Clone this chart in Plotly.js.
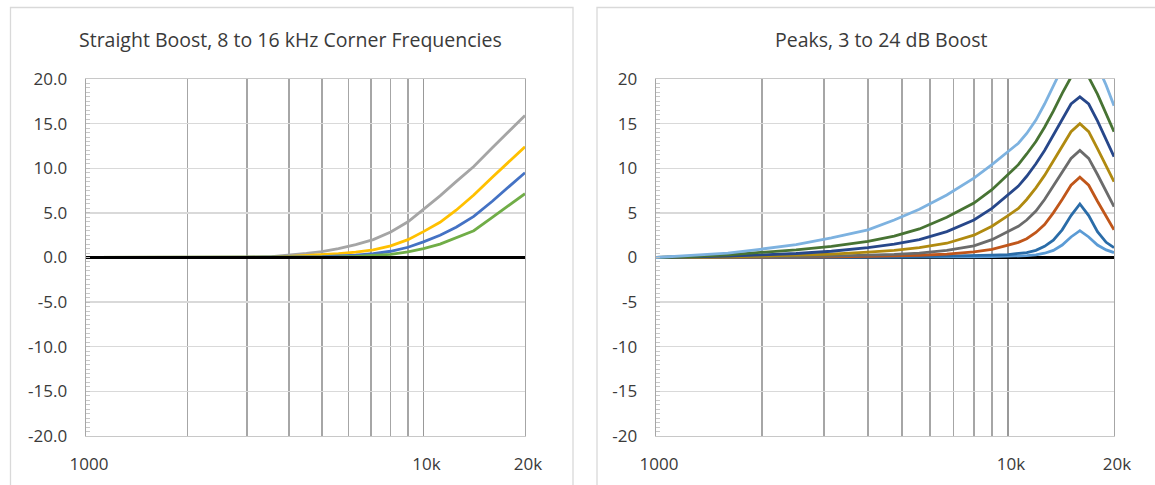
<!DOCTYPE html>
<html><head><meta charset="utf-8">
<script src="https://cdn.plot.ly/plotly-3.0.1.min.js"></script>
<style>html,body{margin:0;padding:0;background:#fff}#chart{width:1155px;height:485px}</style>
</head><body><div id="chart"></div><script>
// ---- Left chart: straight boost, corner frequencies ----
const leftTitle = "Straight Boost, 8 to 16 kHz Corner Frequencies";
const leftFreq = [1000, 2000, 3000, 3550, 4000, 4500, 5000, 5600, 6300, 7100, 8000, 9000, 10000, 11200, 12500, 14100, 16000, 18000, 20000];
const corner8k  = [0, 0, 0.03, 0.1, 0.25, 0.45, 0.65, 1.0, 1.45, 2.0, 2.85, 4.0, 5.4, 6.9, 8.5, 10.2, 12.3, 14.2, 15.9];
const corner10k = [0, 0, 0.02, 0.05, 0.12, 0.2, 0.3, 0.42, 0.6, 0.85, 1.3, 2.0, 2.9, 3.95, 5.3, 7.0, 9.0, 10.8, 12.4];
const corner12k = [0, 0, 0, 0.02, 0.03, 0.06, 0.1, 0.17, 0.27, 0.42, 0.7, 1.15, 1.75, 2.5, 3.4, 4.6, 6.3, 8.0, 9.5];
const corner16k = [0, 0, 0, 0, 0.01, 0.02, 0.03, 0.07, 0.12, 0.2, 0.36, 0.62, 1.0, 1.5, 2.2, 3.0, 4.5, 5.9, 7.15];
const zeroFreq = [1000, 20000];
const zeroLevel = [0, 0];

// ---- Right chart: peaks ----
const rightTitle = "Peaks, 3 to 24 dB Boost";
const rightFreq = [1000, 1250, 1600, 2000, 2500, 3150, 4000, 4750, 5600, 6700, 8000, 9000, 10000, 10700, 11300, 12000, 12700, 13450, 14250, 15100, 16000, 16950, 17950, 19000, 20000];
const peak3  = [0, 0, 0, 0, 0.01, 0.01, 0.02, 0.03, 0.04, 0.06, 0.08, 0.1, 0.12, 0.15, 0.2, 0.3, 0.48, 0.8, 1.4, 2.3, 3.0, 2.3, 1.4, 0.85, 0.55];
const peak6  = [0, 0, 0, 0.01, 0.02, 0.03, 0.05, 0.07, 0.1, 0.14, 0.2, 0.26, 0.33, 0.42, 0.55, 0.8, 1.25, 1.95, 3.1, 4.7, 6.0, 4.7, 2.9, 1.7, 1.1];
const peak9  = [0, 0, 0.01, 0.02, 0.04, 0.07, 0.12, 0.17, 0.25, 0.38, 0.62, 0.92, 1.35, 1.7, 2.1, 2.8, 3.7, 5.0, 6.5, 8.1, 9.0, 8.1, 6.3, 4.6, 3.1];
const peak12 = [0, 0.01, 0.03, 0.06, 0.1, 0.15, 0.25, 0.35, 0.5, 0.8, 1.3, 2.0, 2.9, 3.5, 4.2, 5.2, 6.5, 8.0, 9.6, 11.1, 12.0, 11.1, 9.3, 7.4, 5.7];
const peak15 = [0, 0.02, 0.07, 0.15, 0.25, 0.38, 0.6, 0.8, 1.1, 1.6, 2.5, 3.5, 4.7, 5.5, 6.5, 7.8, 9.2, 10.8, 12.5, 14.1, 15.0, 14.1, 12.2, 10.3, 8.5];
const peak18 = [0, 0.05, 0.15, 0.3, 0.45, 0.7, 1.1, 1.5, 2.0, 2.9, 4.2, 5.5, 7.0, 8.0, 9.1, 10.5, 12.0, 13.7, 15.5, 17.2, 18.0, 17.2, 15.3, 13.2, 11.3];
const peak21 = [0, 0.1, 0.3, 0.55, 0.85, 1.25, 1.8, 2.4, 3.2, 4.5, 6.1, 7.6, 9.3, 10.4, 11.6, 13.0, 14.6, 16.4, 18.4, 20.2, 21.0, 20.2, 18.3, 16.1, 14.1];
const peak24 = [0, 0.2, 0.5, 0.95, 1.45, 2.2, 3.1, 4.2, 5.4, 7.0, 8.9, 10.4, 11.9, 12.8, 13.9, 15.4, 17.2, 19.3, 21.5, 23.3, 24.0, 23.3, 21.5, 19.3, 17.0];

const yTicks = [-20, -15, -10, -5, 0, 5, 10, 15, 20];
const leftYLabels = ["-20.0", "-15.0", "-10.0", "-5.0", "0.0", "5.0", "10.0", "15.0", "20.0"];
const rightYLabels = ["-20", "-15", "-10", "-5", "0", "5", "10", "15", "20"];
const xTickVals = [1000, 10000, 20000];
const xTickText = ["1000", "10k", "20k"];
const xMinorVals = [2000, 3000, 4000, 5000, 6000, 7000, 8000, 9000];

const W = 1155, H = 485;
const FONT = "Open Sans, Noto Sans, sans-serif";
const TXT = "#3A3A3A";

function line(x, y, color, xa, ya, w) {
  return {x: x, y: y, type: "scatter", mode: "lines", xaxis: xa, yaxis: ya,
    line: {color: color, width: w || 2.8}, hoverinfo: "skip", showlegend: false};
}

const traces = [
  line(leftFreq, corner8k, "#A5A5A5", "x", "y"),
  line(leftFreq, corner10k, "#FFC000", "x", "y"),
  line(leftFreq, corner12k, "#4472C4", "x", "y"),
  line(leftFreq, corner16k, "#70AD47", "x", "y"),
  line(zeroFreq, zeroLevel, "#000000", "x", "y", 3),
  line(rightFreq, peak3, "#5B9BD5", "x2", "y2"),
  line(rightFreq, peak6, "#2A6CA8", "x2", "y2"),
  line(rightFreq, peak9, "#C0561A", "x2", "y2"),
  line(rightFreq, peak12, "#6B6B6B", "x2", "y2"),
  line(rightFreq, peak15, "#B08A10", "x2", "y2"),
  line(rightFreq, peak18, "#27478A", "x2", "y2"),
  line(rightFreq, peak21, "#477333", "x2", "y2"),
  line(rightFreq, peak24, "#7DB2E0", "x2", "y2")
];

function xAxis(d0, d1, anchor) {
  return {
    type: "log", range: [3, Math.log10(20000)], domain: [d0 / W, d1 / W], anchor: anchor,
    tickmode: "array", tickvals: xTickVals, ticktext: xTickText,
    showgrid: true, gridcolor: "#999999", gridwidth: 1.4,
    showline: true, linecolor: "#C8C8C8", linewidth: 1.4, mirror: true,
    ticks: "", ticklabelstandoff: 12, ticklabelshift: 3,
    tickfont: {family: FONT, size: 17, color: TXT},
    minor: {tickmode: "array", tickvals: xMinorVals, showgrid: true, gridcolor: "#A6A6A6", gridwidth: 1.4, ticks: ""},
    zeroline: false, fixedrange: true
  };
}
function yAxis(labels, anchor) {
  return {
    range: [-20, 20], domain: [(H - 436) / H, (H - 79) / H], anchor: anchor,
    tickmode: "array", tickvals: yTicks, ticktext: labels,
    showgrid: true, gridcolor: "#D9D9D9", gridwidth: 1.4,
    showline: true, linecolor: "#A6A6A6", linewidth: 1.4, mirror: true,
    ticks: "inside", ticklen: 4, tickcolor: "#BFBFBF", tickwidth: 1,
    minor: {dtick: 0.5, ticks: "inside", ticklen: 4, tickcolor: "#C8C8C8", tickwidth: 1, showgrid: false},
    ticklabelstandoff: 14,
    tickfont: {family: FONT, size: 17, color: TXT},
    zeroline: true, zerolinecolor: "#000000", zerolinewidth: 3, fixedrange: true
  };
}

const layout = {
  width: W, height: H, margin: {l: 0, r: 0, t: 0, b: 0},
  paper_bgcolor: "#FFFFFF", plot_bgcolor: "#FFFFFF",
  showlegend: false,
  font: {family: FONT, size: 17, color: TXT},
  xaxis: xAxis(86, 525, "y"),
  yaxis: yAxis(leftYLabels, "x"),
  xaxis2: xAxis(656, 1114, "y2"),
  yaxis2: yAxis(rightYLabels, "x2"),
  annotations: [
    {text: leftTitle, x: 291 / W, y: 1 - 39 / H, xref: "paper", yref: "paper", showarrow: false,
     xanchor: "center", yanchor: "middle", font: {family: FONT, size: 19.5, color: TXT}},
    {text: rightTitle, x: 881 / W, y: 1 - 39 / H, xref: "paper", yref: "paper", showarrow: false,
     xanchor: "center", yanchor: "middle", font: {family: FONT, size: 19.5, color: TXT}}
  ],
  shapes: [
    {type: "rect", xref: "paper", yref: "paper", x0: 10.5 / W, x1: 573 / W, y0: -0.05, y1: 1 - 7.5 / H,
     line: {color: "#D9D9D9", width: 1.3}, fillcolor: "rgba(0,0,0,0)", layer: "below"},
    {type: "rect", xref: "paper", yref: "paper", x0: 597 / W, x1: 1.05, y0: -0.05, y1: 1 - 7.5 / H,
     line: {color: "#D9D9D9", width: 1.3}, fillcolor: "rgba(0,0,0,0)", layer: "below"}
  ]
};

Plotly.newPlot("chart", traces, layout, {staticPlot: true, displayModeBar: false});
</script></body></html>
